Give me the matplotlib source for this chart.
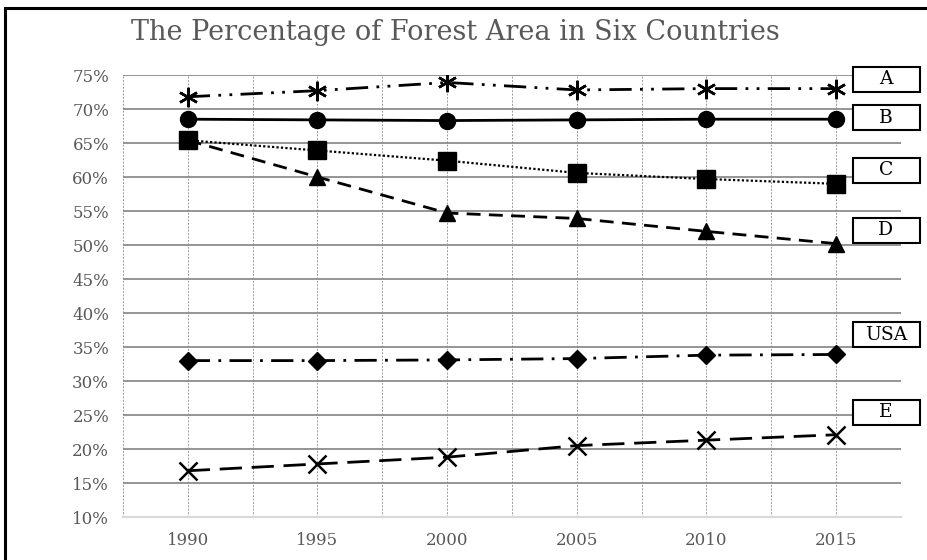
import matplotlib
matplotlib.use('Agg')
import matplotlib.pyplot as plt
from matplotlib.patches import Rectangle
from matplotlib.ticker import FuncFormatter, MultipleLocator

# data
years = ['1990', '1995', '2000', '2005', '2010', '2015']
country_a = [71.8, 72.7, 73.9, 72.8, 73.0, 73.0]
country_b = [68.5, 68.4, 68.3, 68.4, 68.5, 68.5]
country_c = [65.4, 63.9, 62.4, 60.6, 59.7, 59.0]
country_d = [65.4, 60.0, 54.7, 53.9, 52.0, 50.2]
country_usa = [33.0, 33.0, 33.1, 33.3, 33.8, 33.9]
country_e = [16.8, 17.8, 18.8, 20.5, 21.3, 22.1]

labels = ['A', 'B', 'C', 'D', 'USA', 'E']
label_y = [74.4, 68.7, 61.0, 52.2, 36.8, 25.4]

plt.rcParams['font.family'] = ['DejaVu Serif']

W, H = 928, 560
fig = plt.figure(figsize=(W / 100, H / 100), dpi=100)
ax = fig.add_axes([123 / W, 1 - 517 / H, (901 - 123) / W, (517 - 75) / H])

x = list(range(len(years)))
lw = 2.0
ax.plot(x, country_a, color='black', lw=lw, ls=(0, (8, 3, 1, 3, 1, 3)),
        marker=(6, 2, 0), ms=14, mew=1.8, zorder=5)
ax.plot(x, country_b, color='black', lw=lw, ls='-',
        marker='o', ms=11.5, zorder=5)
ax.plot(x, country_c, color='black', lw=1.6, ls=(0, (1, 1)),
        marker='s', ms=13, zorder=5)
ax.plot(x, country_d, color='black', lw=lw, ls=(0, (5, 3)),
        marker='^', ms=12, zorder=5)
ax.plot(x, country_usa, color='black', lw=lw, ls=(0, (8, 3, 1, 3)),
        marker='D', ms=9.5, zorder=5)
ax.plot(x, country_e, color='black', lw=lw, ls=(0, (8, 3.5)),
        marker='x', ms=13, mew=1.8, zorder=5)

ax.set_xlim(-0.5, len(years) - 0.5)
ax.set_ylim(10, 75)
ax.set_xticks(x)
ax.set_xticklabels(years)
ax.xaxis.set_minor_locator(MultipleLocator(1, offset=0.5))
ax.yaxis.set_major_locator(MultipleLocator(5))
ax.yaxis.set_major_formatter(FuncFormatter(lambda v, p: f'{v:.0f}%'))

ax.grid(axis='y', color='#8c8c8c', lw=1.3)
ax.grid(axis='x', which='both', color='#9a9a9a', lw=0.7, ls=(0, (2, 1.5)))
ax.set_axisbelow(True)
for s in ['left', 'right', 'top']:
    ax.spines[s].set_visible(False)
ax.spines['bottom'].set_color('#d9d9d9')
ax.spines['bottom'].set_linewidth(1.5)
ax.tick_params(which='both', length=0)
ax.tick_params(axis='y', pad=10, labelsize=12, labelcolor='#595959')
ax.tick_params(axis='x', pad=11, labelsize=12, labelcolor='#595959')

fig.text(455 / W, 1 - 33 / H, 'The Percentage of Forest Area in Six Countries',
         ha='center', va='center', fontsize=19.5, color='#595959')

# label boxes to the right of the lines
for lab, yv in zip(labels, label_y):
    yfig = ax.transData.transform((0, yv))[1] / H
    bw, bh = 67 / W, 25 / H
    fig.add_artist(Rectangle((853 / W, yfig - bh / 2), bw, bh,
                             transform=fig.transFigure, facecolor='white',
                             edgecolor='black', lw=1.5, zorder=10))
    fig.text(886 / W, yfig, lab, ha='center', va='center', fontsize=13.5,
             color='black', zorder=11)

# outer frame of the chart
fig.add_artist(Rectangle((5 / W, -0.1), 1.2, 1 - 8 / H + 0.1,
                         transform=fig.transFigure, fill=False,
                         edgecolor='black', lw=2.2))

fig.savefig('out.png', dpi=100)
